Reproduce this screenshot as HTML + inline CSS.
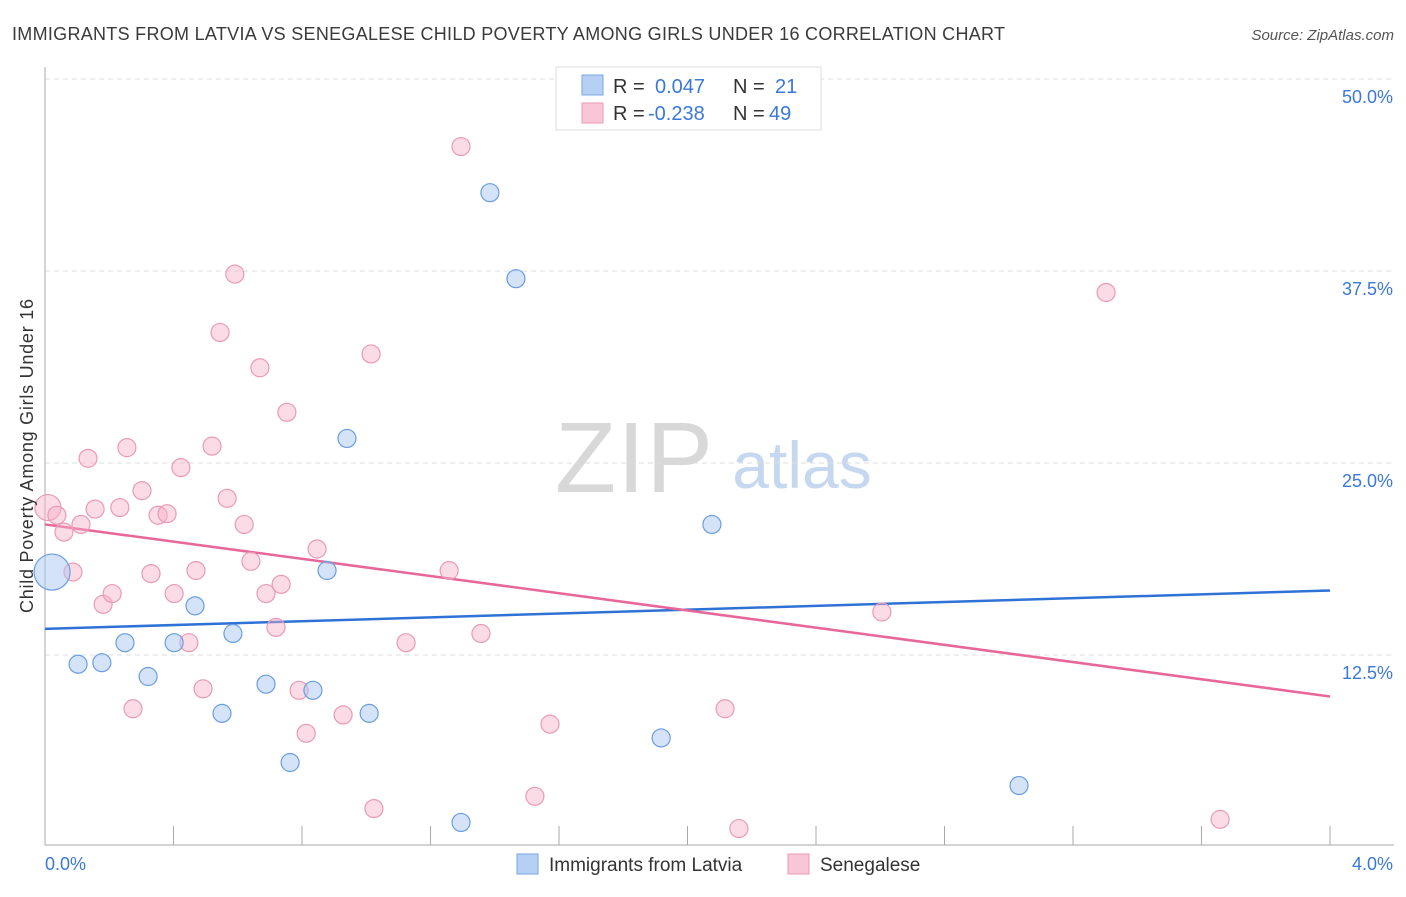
<!DOCTYPE html>
<html><head><meta charset="utf-8"><style>
body{margin:0;background:#fff;font-family:"Liberation Sans",sans-serif;}
svg text{font-family:"Liberation Sans",sans-serif;}
</style></head><body>
<svg id="chart" width="1406" height="892" xmlns="http://www.w3.org/2000/svg">
<text x="12" y="40" font-size="18" fill="#3a3a3a" textLength="993">IMMIGRANTS FROM LATVIA VS SENEGALESE CHILD POVERTY AMONG GIRLS UNDER 16 CORRELATION CHART</text>
<text x="1394" y="40" font-size="15" fill="#555" font-style="italic" text-anchor="end">Source: ZipAtlas.com</text>
<g>
<text x="634" y="492" font-size="100" fill="#d8d8d8" font-family="Liberation Serif" text-anchor="middle" textLength="158">ZIP</text>
<text x="802" y="488" font-size="66" fill="#c5d8ef" text-anchor="middle">atlas</text>
</g>
<g id="grid"></g>
<g id="axes"></g>
<g id="trends"></g>
<g id="points"></g>
<text transform="translate(33,456) rotate(-90)" font-size="18" fill="#333" text-anchor="middle" textLength="314">Child Poverty Among Girls Under 16</text>
<g>
<rect x="556" y="67" width="265" height="63" fill="#fff" stroke="#ddd"/>
<rect x="582" y="75" width="21" height="20" fill="#b5d0f3" stroke="#7aa6e2"/>
<rect x="582" y="103" width="21" height="20" fill="#f8c6d6" stroke="#eb9ab5"/>
<text x="613" y="93" font-size="20" fill="#333">R =</text><text x="655" y="93" font-size="20" fill="#3b78d8">0.047</text>
<text x="733" y="93" font-size="20" fill="#333">N =</text><text x="775" y="93" font-size="20" fill="#3b78d8">21</text>
<text x="613" y="120" font-size="20" fill="#333">R =</text><text x="648" y="120" font-size="20" fill="#3b78d8">-0.238</text>
<text x="733" y="120" font-size="20" fill="#333">N =</text><text x="769" y="120" font-size="20" fill="#3b78d8">49</text>
</g>
<g>
<rect x="517" y="854" width="21" height="20" fill="#b5d0f3" stroke="#7aa6e2"/>
<text x="549" y="871" font-size="19" fill="#333">Immigrants from Latvia</text>
<rect x="788" y="854" width="21" height="20" fill="#f8c6d6" stroke="#eb9ab5"/>
<text x="820" y="871" font-size="19" fill="#333">Senegalese</text>
</g>
</svg>
<script>
const xTicks=[0,0.4,0.8,1.2,1.6,2.0,2.4,2.8,3.2,3.6,4.0];
const yTicks=[12.5,25,37.5,50];
const yTickLabels=["12.5%","25.0%","37.5%","50.0%"];
const xEndLabels=["0.0%","4.0%"];
const blueX=[0.022,0.103,0.177,0.249,0.321,0.402,0.467,0.551,0.585,0.688,0.763,0.834,0.878,0.940,1.009,1.295,1.385,1.466,1.918,2.076,3.032];
const blueY=[17.9,11.9,12.0,13.3,11.1,13.3,15.7,8.7,13.9,10.6,5.5,10.2,18.0,26.6,8.7,1.6,42.6,37.0,7.1,21.0,4.0];
const blueR=[18,9,9,9,9,9,9,9,9,9,9,9,9,9,9,9,9,9,9,9,9];
const pinkX=[0.009,0.037,0.059,0.087,0.112,0.134,0.156,0.181,0.209,0.233,0.255,0.274,0.302,0.330,0.352,0.380,0.402,0.423,0.448,0.470,0.492,0.520,0.545,0.567,0.591,0.620,0.641,0.669,0.688,0.719,0.735,0.753,0.791,0.813,0.847,0.928,1.015,1.024,1.124,1.258,1.295,1.357,1.525,1.572,2.117,2.160,2.605,3.303,3.658];
const pinkY=[22.1,21.6,20.5,17.9,21.0,25.3,22.0,15.8,16.5,22.1,26.0,9.0,23.2,17.8,21.6,21.7,16.5,24.7,13.3,18.0,10.3,26.1,33.5,22.7,37.3,21.0,18.6,31.2,16.5,14.3,17.1,28.3,10.2,7.4,19.4,8.6,32.1,2.5,13.3,18.0,45.6,13.9,3.3,8.0,9.0,1.2,15.3,36.1,1.8];
const pinkR=[13,9,9,9,9,9,9,9,9,9,9,9,9,9,9,9,9,9,9,9,9,9,9,9,9,9,9,9,9,9,9,9,9,9,9,9,9,9,9,9,9,9,9,9,9,9,9,9,9];
const blueTrend=[14.2,16.7];
const pinkTrend=[21.0,9.8];
const xs=v=>45+v*321.25, ys=v=>847-v*15.36;
const NS="http://www.w3.org/2000/svg";
function mk(tag,attrs,parent){const e=document.createElementNS(NS,tag);for(const k in attrs)e.setAttribute(k,attrs[k]);document.getElementById(parent).appendChild(e);return e;}
yTicks.forEach((t,i)=>{
 const l=mk('line',{x1:45,x2:1394,y1:ys(t),y2:ys(t),stroke:'#ddd','stroke-dasharray':'5,4'},'grid');
 
 
 const tx=mk('text',{x:1393,y:ys(t)+24,'font-size':18,fill:'#3b78d8','text-anchor':'end'},'grid');tx.textContent=yTickLabels[i];
 
 
});
const ax=mk('line',{x1:45,x2:45,y1:67,y2:845,stroke:'#aaa'},'axes');


const bx=mk('line',{x1:45,x2:1394,y1:845,y2:845,stroke:'#aaa'},'axes');


xTicks.forEach(t=>{const l=mk('line',{x1:xs(t),x2:xs(t),y1:826,y2:845,stroke:'#aaa'},'axes');
 
 });
[[0,'start',45],[4,'end',1393]].forEach((a,i)=>{const t=mk('text',{x:a[2],y:870,'font-size':18,fill:'#3b78d8','text-anchor':a[1]},'axes');t.textContent=xEndLabels[i];
 
 });
const bl=mk('line',{x1:xs(0),x2:xs(4),y1:ys(blueTrend[0]),y2:ys(blueTrend[1]),stroke:'#2f72d6','stroke-width':2.5},'trends');


const pl=mk('line',{x1:xs(0),x2:xs(4),y1:ys(pinkTrend[0]),y2:ys(pinkTrend[1]),stroke:'#e8679a','stroke-width':2.5},'trends');


pinkX.forEach((x,i)=>{const c=mk('circle',{cx:xs(x),cy:ys(pinkY[i]),r:pinkR[i],fill:'rgba(246,176,200,0.45)',stroke:'#eb9ab5','stroke-width':1.2},'points');
 
 });
blueX.forEach((x,i)=>{const c=mk('circle',{cx:xs(x),cy:ys(blueY[i]),r:blueR[i],fill:'rgba(170,200,242,0.5)',stroke:'#6a9ee0','stroke-width':1.2},'points');
 
 });
</script>
</body></html>
